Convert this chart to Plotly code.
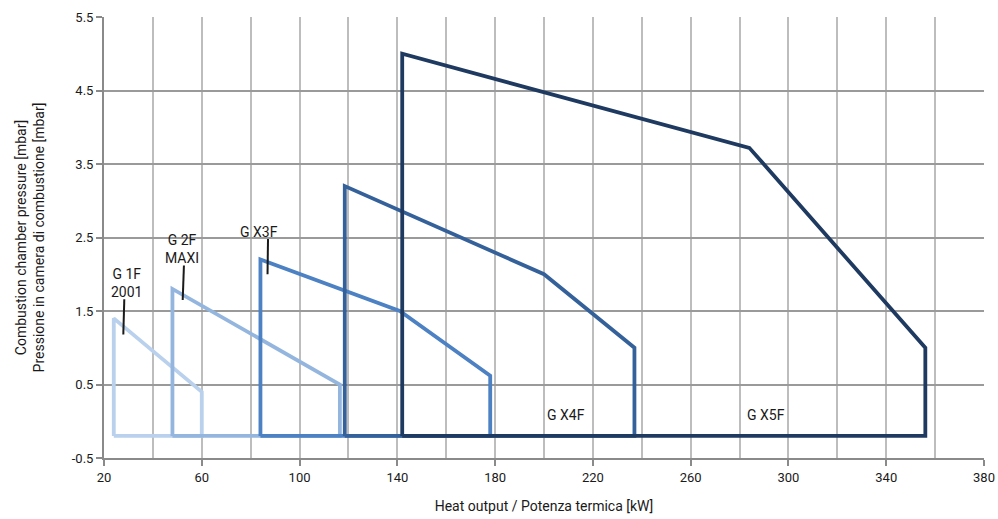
import plotly.graph_objects as go

# --- data ---
models = ["G 1F 2001", "G 2F MAXI", "G X3F", "G X4F", "G X5F"]
g1f_x = [24, 24, 60, 60, 24]
g1f_y = [-0.2, 1.4, 0.4, -0.2, -0.2]
g2f_x = [48, 48, 116.5, 116.5, 48]
g2f_y = [-0.2, 1.8, 0.5, -0.2, -0.2]
gx3f_x = [84, 84, 141, 178, 178, 84]
gx3f_y = [-0.2, 2.2, 1.5, 0.62, -0.2, -0.2]
gx4f_x = [118.5, 118.5, 200, 237, 237, 118.5]
gx4f_y = [-0.2, 3.2, 2.0, 1.0, -0.2, -0.2]
gx5f_x = [142, 142, 284, 356, 356, 142]
gx5f_y = [-0.2, 5.0, 3.72, 1.0, -0.2, -0.2]

colors = ["#b9d1ec", "#94b6de", "#4c81c3", "#35619a", "#1f3a60"]

label_text = ["G 1F<br>2001", "G 2F<br>MAXI", "G X3F", "G X4F", "G X5F"]
label_x = [29.3, 52.1, 83.3, 209, 290.8]
label_y = [1.88, 2.34, 2.57, 0.085, 0.085]

leader_x0 = [28.3, 52.7, 87.1]
leader_y0 = [1.66, 2.12, 2.48]
leader_x1 = [27.9, 52.2, 86.9]
leader_y1 = [1.18, 1.65, 2.0]

y_ticks = [-0.5, 0.5, 1.5, 2.5, 3.5, 4.5, 5.5]

FONT = "Roboto, Liberation Sans, sans-serif"

fig = go.Figure()
series = [(g1f_x, g1f_y), (g2f_x, g2f_y), (gx3f_x, gx3f_y), (gx4f_x, gx4f_y), (gx5f_x, gx5f_y)]
for (xs, ys), name, c in zip(series, models, colors):
    fig.add_trace(go.Scatter(x=xs, y=ys, mode="lines", name=name,
                             line=dict(color=c, width=3.8), showlegend=False,
                             hoverinfo="skip"))

for t, x, y in zip(label_text, label_x, label_y):
    fig.add_annotation(x=x, y=y, text=t, showarrow=False,
                       font=dict(family=FONT, size=14, color="#1a1a1a"))

for x0, y0, x1, y1 in zip(leader_x0, leader_y0, leader_x1, leader_y1):
    fig.add_shape(type="line", x0=x0, y0=y0, x1=x1, y1=y1,
                  line=dict(color="#1a1a1a", width=2), layer="above")

fig.update_layout(
    width=998, height=519,
    margin=dict(l=104, r=14, t=17, b=61),
    paper_bgcolor="white", plot_bgcolor="white",
    font=dict(family=FONT, size=13, color="#1a1a1a"),
    xaxis=dict(
        range=[20, 380], tick0=20, dtick=40, automargin=False,
        showgrid=True, gridcolor="#bdbdbd", gridwidth=2,
        minor=dict(dtick=20, tick0=20, showgrid=True, gridcolor="#bdbdbd", gridwidth=2),
        showline=True, linecolor="#8a8a8a", linewidth=2,
        ticks="outside", ticklen=6, tickcolor="#8a8a8a", tickwidth=2,
        zeroline=False,
        title=dict(text="Heat output / Potenza termica [kW]", font=dict(size=14), standoff=18),
        tickfont=dict(size=13),
    ),
    yaxis=dict(
        range=[-0.5, 5.5], tickvals=y_ticks, ticktext=[str(v) for v in y_ticks],
        automargin=False,
        showgrid=True, gridcolor="#9a9a9a", gridwidth=2,
        showline=True, linecolor="#8a8a8a", linewidth=2,
        ticks="outside", ticklen=6, tickcolor="#8a8a8a", tickwidth=2,
        zeroline=False,
        title=dict(text="Combustion chamber pressure [mbar]<br>Pressione in camera di combustione [mbar]",
                   font=dict(size=14), standoff=24),
        tickfont=dict(size=13),
    ),
)

fig.write_html("out.html", config={"displayModeBar": False},
               post_script="document.body.style.margin='0';document.body.style.overflow='hidden';")
